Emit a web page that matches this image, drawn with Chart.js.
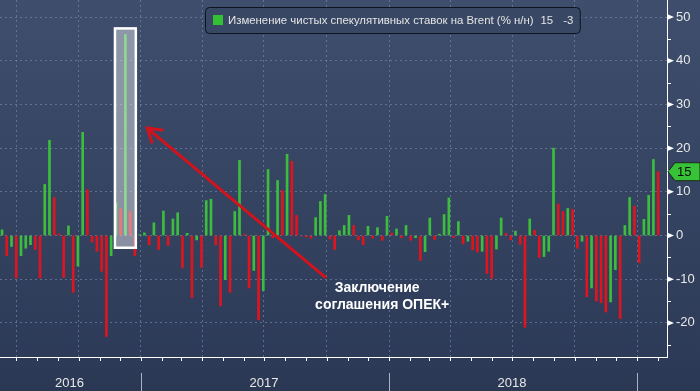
<!DOCTYPE html>
<html>
<head>
<meta charset="utf-8">
<script src="https://cdn.jsdelivr.net/npm/chart.js@4.4.1/dist/chart.umd.min.js"></script>
<style>
  html, body { margin: 0; padding: 0; background: #2b3956; }
  #caixa { width: 700px; height: 391px; }
</style>
</head>
<body>
<div id="caixa"><canvas id="grafico" width="700" height="391"></canvas></div>
<script>
// dados (variacao semanal, % n/n)
const nomeSerie = "Изменение чистых спекулятивных ставок на Brent (% н/н)";
const primeiraSemana = "2016-06-10";
const variacaoSemanal = [
  1.3, -4.6, -2.5, -9.7, -4.6, -2.9, -2.1, -3.2, -9.7, 11.7,
  21.8, 8.7, 0.4, -9.6, 2.2, -13, -7, 23.6, 10.5, -1.5,
  -3.6, -8.2, -23.1, -4.6, 7.5, 6.1, 46, 5.5, -4.6, 0.2,
  0.6, -2.1, 2.9, -3.2, 5.6, -2.3, 3.8, 5.2, -7.4, 0.5,
  -14.2, -1.0, -7.3, 8, 8.3, -2.1, -16.1, -10.1, -13, 5.5,
  17.2, 0.3, -12, -8, -19.3, -12.6, 15.1, -0.5, 12.6, 10.3,
  18.6, 17, 4.6, -0.1, -0.3, -0.6, 4.1, 7.8, 9.4, -0.8,
  -3.2, 1.1, 2.3, 4.6, 2.3, -1.0, -2.1, 2.1, -0.6, 1.8,
  -1.1, 4.4, 0.6, 1.5, -0.5, 2.3, -1.1, -0.5, -5.7, -3.7,
  4, -0.9, 0.3, 4.8, 8.6, -0.5, 3.2, -1.9, -1.3, -3.3,
  -3.8, -3.6, -8.7, -9.8, -3.1, 4, 0.5, -1, 1, -2,
  -21, 3.8, 1.2, -5, -4.8, -3.6, 20, 7.2, 5.5, 6.2,
  6.0, -2.9, -1.3, -14, -12, -15, -15.4, -17.5, -15.2, -7.8,
  -19, 2.3, 8.7, 6.7, -6.2, 3.7, 9.2, 17.4, 14.6
];
const anos = [2016, 2017, 2018];
const ticksY = [-20, -10, 0, 10, 20, 30, 40, 50];
const semanaDestaque = 26;
const textoAnotacao = ["Заключение", "соглашения ОПЕК+"];

const verde = "#3dbd3d";
const vermelho = "#e0141e";
const corGrade = "rgba(130,150,185,0.55)";
const fonte = "'Liberation Sans', Arial, sans-serif";

const DIA = 86400000;
function paraAno(ms) {
  let d = new Date(ms);
  let a = d.getUTCFullYear();
  let ini = Date.UTC(a, 0, 1);
  let fim = Date.UTC(a + 1, 0, 1);
  return a + (ms - ini) / (fim - ini);
}
let inicio = Date.parse(primeiraSemana + "T00:00:00Z");
function anoDaSemana(i) {
  return paraAno(inicio + i * 7 * DIA);
}

let pontos = variacaoSemanal.map((v, i) => ({ x: anoDaSemana(i), y: v }));
let cores = variacaoSemanal.map((v, i) => (i == 0 || v >= variacaoSemanal[i - 1]) ? verde : vermelho);

let xMin = paraAno(Date.parse("2016-06-07T00:00:00Z"));
let xMax = paraAno(Date.parse("2019-02-14T00:00:00Z"));

let enfeites = {
  id: "enfeites",
  beforeDraw(chart) {
    let ctx = chart.ctx;
    let g = ctx.createLinearGradient(0, 0, 0, 391);
    g.addColorStop(0, "#3e4e6c");
    g.addColorStop(0.91, "#2d3b58");
    g.addColorStop(1, "#2a3854");
    ctx.fillStyle = g;
    ctx.fillRect(0, 0, chart.width, chart.height);
  },
  afterDatasetsDraw(chart) {
    let ctx = chart.ctx;
    let xs = chart.scales.x;
    let ys = chart.scales.y;
    let area = chart.chartArea;

    // retangulo em volta da semana do acordo
    let rx1 = xs.getPixelForValue(anoDaSemana(semanaDestaque - 2.2));
    let rx2 = xs.getPixelForValue(anoDaSemana(semanaDestaque + 2.2));
    let ry1 = ys.getPixelForValue(47.4);
    let ry2 = ys.getPixelForValue(-2.8);
    ctx.save();
    ctx.fillStyle = "rgba(255,255,255,0.42)";
    ctx.fillRect(rx1, ry1, rx2 - rx1, ry2 - ry1);
    ctx.strokeStyle = "#ffffff";
    ctx.lineWidth = 2.5;
    ctx.strokeRect(rx1, ry1, rx2 - rx1, ry2 - ry1);
    ctx.restore();

    // seta
    let ax1 = xs.getPixelForValue(anoDaSemana(68));
    let ay1 = ys.getPixelForValue(-9.5);
    let ax2 = xs.getPixelForValue(anoDaSemana(30.6));
    let ay2 = ys.getPixelForValue(24.6);
    let ang = Math.atan2(ay1 - ay2, ax1 - ax2);
    ctx.save();
    ctx.strokeStyle = "#d4121c";
    ctx.lineWidth = 3;
    ctx.lineCap = "round";
    ctx.beginPath();
    ctx.moveTo(ax1, ay1);
    ctx.lineTo(ax2, ay2);
    ctx.moveTo(ax2 + 15 * Math.cos(ang - 0.56), ay2 + 15 * Math.sin(ang - 0.56));
    ctx.lineTo(ax2, ay2);
    ctx.lineTo(ax2 + 15 * Math.cos(ang + 0.56), ay2 + 15 * Math.sin(ang + 0.56));
    ctx.stroke();
    ctx.restore();

    // texto da anotacao
    ctx.save();
    ctx.fillStyle = "#ffffff";
    ctx.font = "bold 14px " + fonte;
    ctx.textAlign = "center";
    ctx.textBaseline = "middle";
    ctx.fillText(textoAnotacao[0], ax1 + 52, ay1 + 11);
    ctx.fillText(textoAnotacao[1], ax1 + 57, ay1 + 28);
    ctx.restore();

    // legenda
    let ultimo = variacaoSemanal[variacaoSemanal.length - 1];
    let penultimo = variacaoSemanal[variacaoSemanal.length - 2];
    let txtUltimo = String(Math.round(ultimo));
    let txtVar = String(Math.round(ultimo - penultimo));
    ctx.save();
    ctx.font = "11.4px " + fonte;
    let wNome = ctx.measureText(nomeSerie).width;
    let wUlt = ctx.measureText(txtUltimo).width;
    let wVar = ctx.measureText(txtVar).width;
    let tx = 228;
    let fimTexto = tx + wNome + 7 + wUlt + 10 + wVar;
    ctx.beginPath();
    ctx.roundRect(205.5, 7.5, fimTexto + 7 - 205.5, 26, 4);
    ctx.fillStyle = "#384764";
    ctx.fill();
    ctx.strokeStyle = "#0e141e";
    ctx.lineWidth = 1;
    ctx.stroke();
    ctx.fillStyle = "#33c033";
    ctx.fillRect(213, 15, 10, 10);
    ctx.fillStyle = "#e4e4e4";
    ctx.textBaseline = "middle";
    ctx.fillText(nomeSerie, tx, 21);
    ctx.fillText(txtUltimo, tx + wNome + 7, 21);
    ctx.fillText(txtVar, tx + wNome + 7 + wUlt + 10, 21);
    ctx.restore();

    // marcas do eixo y
    ctx.save();
    ctx.fillStyle = "#ffffff";
    ctx.strokeStyle = "#ffffff";
    ctx.lineWidth = 1;
    let ex = area.right;
    for (let v of ticksY) {
      let y = ys.getPixelForValue(v);
      ctx.beginPath();
      ctx.moveTo(ex, y - 3);
      ctx.lineTo(ex, y + 3);
      ctx.lineTo(ex + 7, y);
      ctx.closePath();
      ctx.fill();
    }
    for (let v = -25; v <= 45; v += 10) {
      let y = Math.round(ys.getPixelForValue(v)) + 0.5;
      ctx.beginPath();
      ctx.moveTo(ex, y);
      ctx.lineTo(ex + 4, y);
      ctx.stroke();
    }
    ctx.restore();

    // etiqueta do ultimo valor
    let ly = ys.getPixelForValue(ultimo);
    ctx.save();
    ctx.beginPath();
    ctx.moveTo(ex + 1, ly);
    ctx.lineTo(ex + 8, ly - 9);
    ctx.lineTo(700, ly - 9);
    ctx.lineTo(700, ly + 9);
    ctx.lineTo(ex + 8, ly + 9);
    ctx.closePath();
    ctx.fillStyle = "#37c237";
    ctx.fill();
    ctx.strokeStyle = "#1b2a1b";
    ctx.lineWidth = 1;
    ctx.stroke();
    ctx.fillStyle = "#0c0c0c";
    ctx.font = "13px " + fonte;
    ctx.textBaseline = "middle";
    ctx.fillText(txtUltimo, ex + 10, ly + 1);
    ctx.restore();

    // eixo x: marcas mensais, separadores e anos
    ctx.save();
    ctx.strokeStyle = "#ffffff";
    ctx.lineWidth = 1;
    let by = area.bottom;
    for (let a = 2016; a <= 2019; a++) {
      for (let m = 0; m < 12; m++) {
        let v = paraAno(Date.UTC(a, m, 1));
        if (v < xMin || v > xMax) continue;
        let x = Math.round(xs.getPixelForValue(v)) + 0.5;
        ctx.beginPath();
        ctx.moveTo(x, by);
        ctx.lineTo(x, by + 4);
        ctx.stroke();
      }
    }
    ctx.strokeStyle = "#a9b1c2";
    for (let a = 2017; a <= 2019; a++) {
      let x = Math.round(xs.getPixelForValue(a)) + 0.5;
      ctx.beginPath();
      ctx.moveTo(x, 373);
      ctx.lineTo(x, 391);
      ctx.stroke();
    }
    ctx.fillStyle = "#e8e8e8";
    ctx.font = "13px " + fonte;
    ctx.textAlign = "center";
    ctx.textBaseline = "middle";
    for (let a of anos) {
      let x1 = Math.max(area.left, xs.getPixelForValue(a));
      let x2 = Math.min(area.right, xs.getPixelForValue(a + 1));
      ctx.fillText(String(a), (x1 + x2) / 2 - 1, 383);
    }
    ctx.restore();
  }
};

new Chart(document.getElementById("grafico"), {
  type: "bar",
  data: {
    datasets: [{
      label: nomeSerie,
      data: pontos,
      backgroundColor: cores,
      borderWidth: 0,
      barThickness: 2
    }]
  },
  options: {
    responsive: false,
    devicePixelRatio: 1,
    animation: false,
    layout: { padding: 0 },
    plugins: {
      legend: { display: false },
      tooltip: { enabled: false }
    },
    scales: {
      x: {
        type: "linear",
        offset: false,
        min: xMin,
        max: xMax,
        afterBuildTicks(scale) {
          let t = [];
          for (let a = 2016; a <= 2019; a++) {
            for (let q = 0; q < 4; q++) {
              let v = paraAno(Date.UTC(a, q * 3, 1));
              if (v > xMin && v < xMax) t.push({ value: v });
            }
          }
          scale.ticks = t;
        },
        afterFit(scale) {
          scale.height = 34;
          scale.paddingLeft = 0;
          scale.paddingRight = 0;
        },
        ticks: { display: false },
        grid: { color: corGrade, drawTicks: false, offset: false },
        border: { display: true, color: "#ffffff", width: 1, dash: [2, 3] }
      },
      y: {
        position: "right",
        min: -27.8,
        max: 53.9,
        afterFit(scale) {
          scale.width = 33;
          scale.paddingTop = 0;
          scale.paddingBottom = 0;
        },
        ticks: {
          stepSize: 10,
          includeBounds: false,
          color: "#e8e8e8",
          padding: 9,
          font: { family: fonte, size: 13 }
        },
        grid: { color: corGrade, drawTicks: false },
        border: { display: true, color: "#ffffff", width: 1, dash: [2, 3] }
      }
    }
  },
  plugins: [enfeites]
});
</script>
</body>
</html>
